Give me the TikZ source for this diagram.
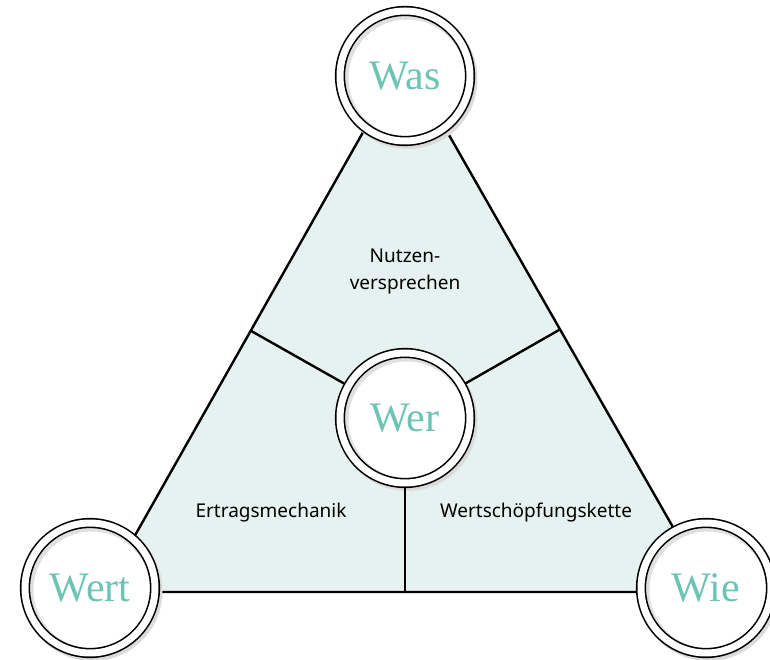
\documentclass[tikz,border=0pt]{standalone}
\usepackage{fontspec}
\setsansfont{Noto Sans}
\setmainfont{Liberation Serif}
\usetikzlibrary{calc}
\definecolor{ringtext}{HTML}{6CC4B4}
\definecolor{areafill}{HTML}{E6F2F0}

\begin{document}
\begin{tikzpicture}[x=1pt,y=1pt,
		every node/.style={font=\sffamily\fontsize{19}{27}\selectfont},
		ring/.style={circle,minimum size=130pt,inner sep=0pt,outer sep=5pt,
			fill=white,draw,line width=1.6pt,double=white,double distance=7pt,
			font=\rmfamily\fontsize{42}{42}\selectfont,text=ringtext,
			preaction={draw=black!14,line width=10pt,transform canvas={shift={(2.5pt,-3pt)}}},
			path picture={\draw[black!12,line width=4pt] ([shift={(2pt,-2pt)}]path picture bounding box.center) circle (60.5pt);}},
		part/.style={align=center,text=black},
		divider/.style={line width=2.4pt}]
			\useasboundingbox (0,0) rectangle (770,659);

			\coordinate (top) at (405,601);
			\coordinate (bl) at (103,67);
			\coordinate (br) at (710,67);

			\draw[divider,line join=round,fill=areafill] (top) -- (bl) -- (br) -- cycle;

			\node[part] (nutzen) at (405,388) {Nutzen-\\versprechen};
			\node[part] (ertrag) at (271,146) {Ertragsmechanik};
			\node[part] (wertsch) at (536,146) {Wertschöpfungskette};

			\node[ring] (was) at (405,583) {Was};
			\node[ring] (wer) at (405,241) {Wer};
			\node[ring] (wert) at (90,71) {Wert};
			\node[ring] (wie) at (706,71) {Wie};

			% feet of the perpendiculars from Wer onto the sides
			\coordinate (ml) at ($(top)!(wer)!(bl)$);
			\coordinate (mr) at ($(top)!(wer)!(br)$);
			\coordinate (mb) at ($(bl)!(wer)!(br)$);

			\path[divider] (wer) edge (ml)
						 (wer) edge (mr)
						 (wer) edge (mb);
		\end{tikzpicture}
\end{document}
